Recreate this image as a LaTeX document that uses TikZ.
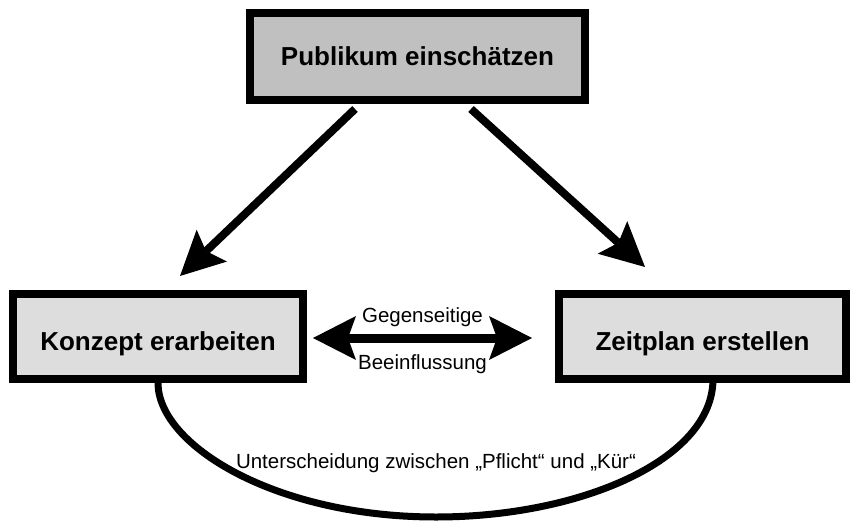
\documentclass[tikz,border=0pt]{standalone}
\usepackage{fontspec}
\setmainfont{Liberation Sans}
\usetikzlibrary{arrows.meta}
\definecolor{topfill}{HTML}{C0C0C0}
\definecolor{sidefill}{HTML}{DDDDDD}
\begin{document}
\begin{tikzpicture}[x=1pt,y=-1pt,
  box/.style={draw=black, line width=8pt, rectangle, inner sep=0pt,
    font=\fontsize{26}{31}\selectfont\bfseries, text depth=0pt},
  lbl/.style={inner sep=0pt, anchor=base, font=\fontsize{20.5}{24}\selectfont},
  bigtip/.style={Stealth[length=44pt,width=44pt,inset=8pt,line width=0pt]},
  bigarrow/.style={line width=8pt, -{Stealth[length=44pt,width=44pt,inset=8pt,line width=0pt]}},
  dblarrow/.style={line width=9pt, {Stealth[length=43pt,width=44pt,inset=8pt,line width=0pt]}-{Stealth[length=43pt,width=44pt,inset=8pt,line width=0pt]}},
  curve/.style={line width=7pt}
]
\useasboundingbox (0,0) rectangle (858,521);

% boxes
\node[box, fill=topfill, minimum width=335pt, minimum height=87pt, text height=19pt]
  (pub) at (417.5,56.5) {Publikum einschätzen};
\node[box, fill=sidefill, minimum width=290pt, minimum height=85pt, text height=27pt]
  (kon) at (158,336.5) {Konzept erarbeiten};
\node[box, fill=sidefill, minimum width=287pt, minimum height=85pt, text height=27pt]
  (zeit) at (702.5,336.5) {Zeitplan erstellen};

% connector end points
\coordinate (aLs) at (355,109);
\coordinate (aLe) at (180,276);
\coordinate (aRs) at (471,109);
\coordinate (aRe) at (645,267);
\coordinate (dL) at (313,338);
\coordinate (dR) at (532,338);
\coordinate (cR) at (713,379);
\coordinate (cB) at (436,517);

% arrows
\draw[bigarrow] (aLs) -- (aLe);
\draw[bigarrow] (aRs) -- (aRe);
\draw[dblarrow] (dL) -- (dR);

% bottom curve
\draw[curve] (kon.south) .. controls (158,445) and (275,517) .. (cB)
  .. controls (580,517) and (713,460) .. (cR);

% labels
\node[lbl] (gg) at (422.5,322) {Gegenseitige};
\node[lbl] (bf) at (422.5,369) {Beeinflussung};
\node[lbl] (pk) at (436,468) {Unterscheidung zwischen „Pflicht“ und „Kür“};
\end{tikzpicture}
\end{document}
